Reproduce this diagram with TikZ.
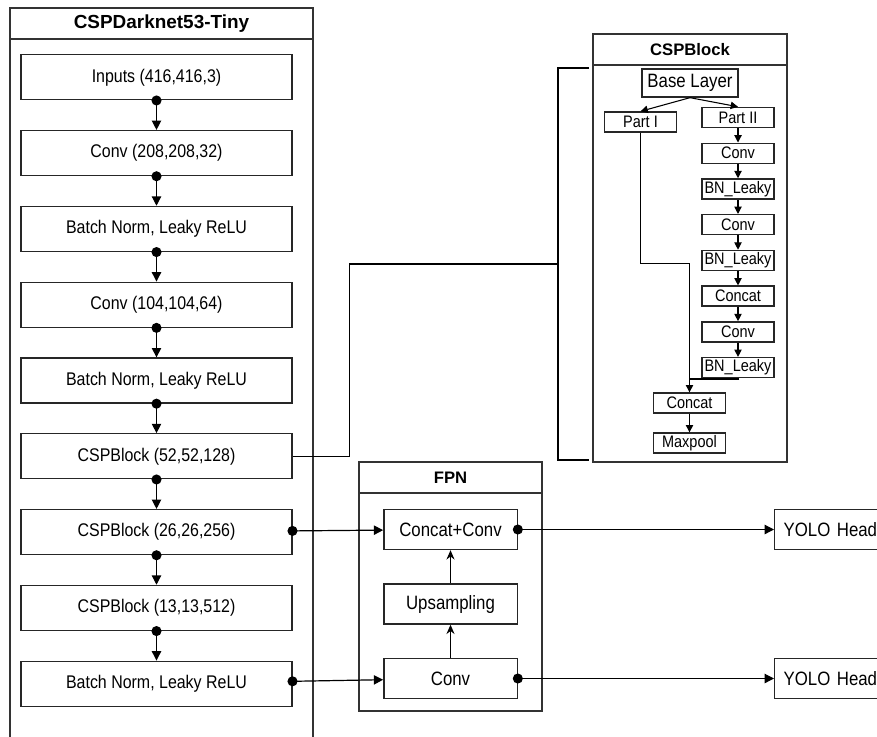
\documentclass[tikz,border=0pt]{standalone}
\usepackage{fontspec}
\setmainfont[FakeStretch=0.87]{Liberation Sans}
\newfontfamily\headfont{Liberation Sans}
\usetikzlibrary{matrix,arrows.meta,positioning}

\tikzset{
  blk/.style={draw=black!85, line width=1pt, fill=white, inner sep=1pt},
  lbox/.style={blk, minimum width=203pt, minimum height=33.75pt, font=\fontsize{13.75}{16}\selectfont},
  fbox/.style={blk, minimum width=100pt, minimum height=30pt, font=\fontsize{14.5}{17}\selectfont},
  sbox/.style={blk, minimum width=54pt, minimum height=15pt, font=\fontsize{12.5}{14}\selectfont},
  cont/.style={draw=black!80, line width=0.8pt},
  ttl/.style={font=\headfont\bfseries\fontsize{12.5}{15}\selectfont},
  dotarrow/.style={{Circle[length=7.5pt]}-{Triangle[length=7pt,width=7pt]}, shorten <=-3.75pt, line width=0.9pt},
  tri/.style={-{Triangle[length=5.5pt,width=5.5pt]}, line width=0.8pt},
  up/.style={-{Stealth[length=7pt,width=6pt]}, line width=0.9pt},
  wire/.style={line width=0.8pt}
}

\begin{document}
\begin{tikzpicture}[x=0.75pt,y=-0.75pt]
  \useasboundingbox (0,0) rectangle (877,736);

  \draw[cont] (10,8) rectangle (313,760);
  \draw[cont] (10,39) -- (313,39);
  \node[ttl, font=\headfont\bfseries\fontsize{14.2}{17}\selectfont] (tdark) at (161.5,23.5) {CSPDarknet53-Tiny};

  \draw[cont] (593,34) rectangle (787,462);
  \draw[cont] (593,65) -- (787,65);
  \node[ttl] (tcsp) at (690,49.5) {CSPBlock};

  \draw[cont] (359,462) rectangle (542,711);
  \draw[cont] (359,493) -- (542,493);
  \node[ttl] (tfpn) at (450.5,477.5) {FPN};

  \matrix (d) [matrix of nodes, nodes={lbox}, row sep=22.1pt] at (156.5,380.5)
  {
     Inputs (416,416,3) \\
     Conv (208,208,32) \\
     Batch Norm, Leaky ReLU \\
     Conv (104,104,64) \\
     Batch Norm, Leaky ReLU \\
     CSPBlock (52,52,128) \\
     CSPBlock (26,26,256) \\
     CSPBlock (13,13,512) \\
     Batch Norm, Leaky ReLU \\};
  \path[dotarrow]
    (d-1-1) edge (d-2-1)
    (d-2-1) edge (d-3-1)
    (d-3-1) edge (d-4-1)
    (d-4-1) edge (d-5-1)
    (d-5-1) edge (d-6-1)
    (d-6-1) edge (d-7-1)
    (d-7-1) edge (d-8-1)
    (d-8-1) edge (d-9-1);

  \node[sbox, minimum width=72pt, minimum height=21pt, font=\fontsize{14.5}{17}\selectfont] (base) at (690,83) {Base Layer};
  \node[sbox] (p1) at (640.5,122) {Part I};
  \matrix (p) [matrix of nodes, nodes={sbox}, row sep=10.8pt] at (738,242.5)
  {
     Part II \\
     Conv \\
     BN\_Leaky \\
     Conv \\
     BN\_Leaky \\
     Concat \\
     Conv \\
     BN\_Leaky \\};
  \coordinate (join) at (689.5,379);
  \node[sbox] (cat) at (689.5,403) {Concat};
  \node[sbox] (mp) at (689.5,443) {Maxpool};
  \path[tri]
    (base.south) edge (p1.north)
                 edge (p-1-1.north)
    (p-1-1) edge (p-2-1)
    (p-2-1) edge (p-3-1)
    (p-3-1) edge (p-4-1)
    (p-4-1) edge (p-5-1)
    (p-5-1) edge (p-6-1)
    (p-6-1) edge (p-7-1)
    (p-7-1) edge (p-8-1)
    (cat) edge (mp);
  \draw[tri] (p1.south) -- ++(0,131) -| (cat.north);
  \draw[wire] (p-8-1.south) |- (join);

  \coordinate (brtop) at (589,68);
  \coordinate (brbot) at (589,460);
  \coordinate (brmid) at (558,264);
  \draw[line width=1.6pt] (brtop) -- (brtop -| brmid) -- (brbot -| brmid) -- (brbot);
  \draw[wire] (d-6-1.east) -- ++(57,0) |- (brmid);

  \node[fbox] (fcc) at (450.5,529.5) {Concat+Conv};
  \node[fbox] (fup) at (450.5,604) {Upsampling};
  \node[fbox] (fcv) at (450.5,678.5) {Conv};
  \path[up]
    (fcv) edge (fup)
    (fup) edge (fcc);

  \node[fbox, anchor=west, text width=110pt, align=left, inner xsep=6.75pt] (yh1) at (774,529.5) {YOLO Head};
  \node[fbox, anchor=west, text width=110pt, align=left, inner xsep=6.75pt] (yh2) at (774,678.5) {YOLO Head};

  \path[dotarrow]
    (d-7-1) edge (fcc)
    (d-9-1) edge (fcv)
    (fcc) edge (yh1)
    (fcv) edge (yh2);
\end{tikzpicture}
\end{document}
